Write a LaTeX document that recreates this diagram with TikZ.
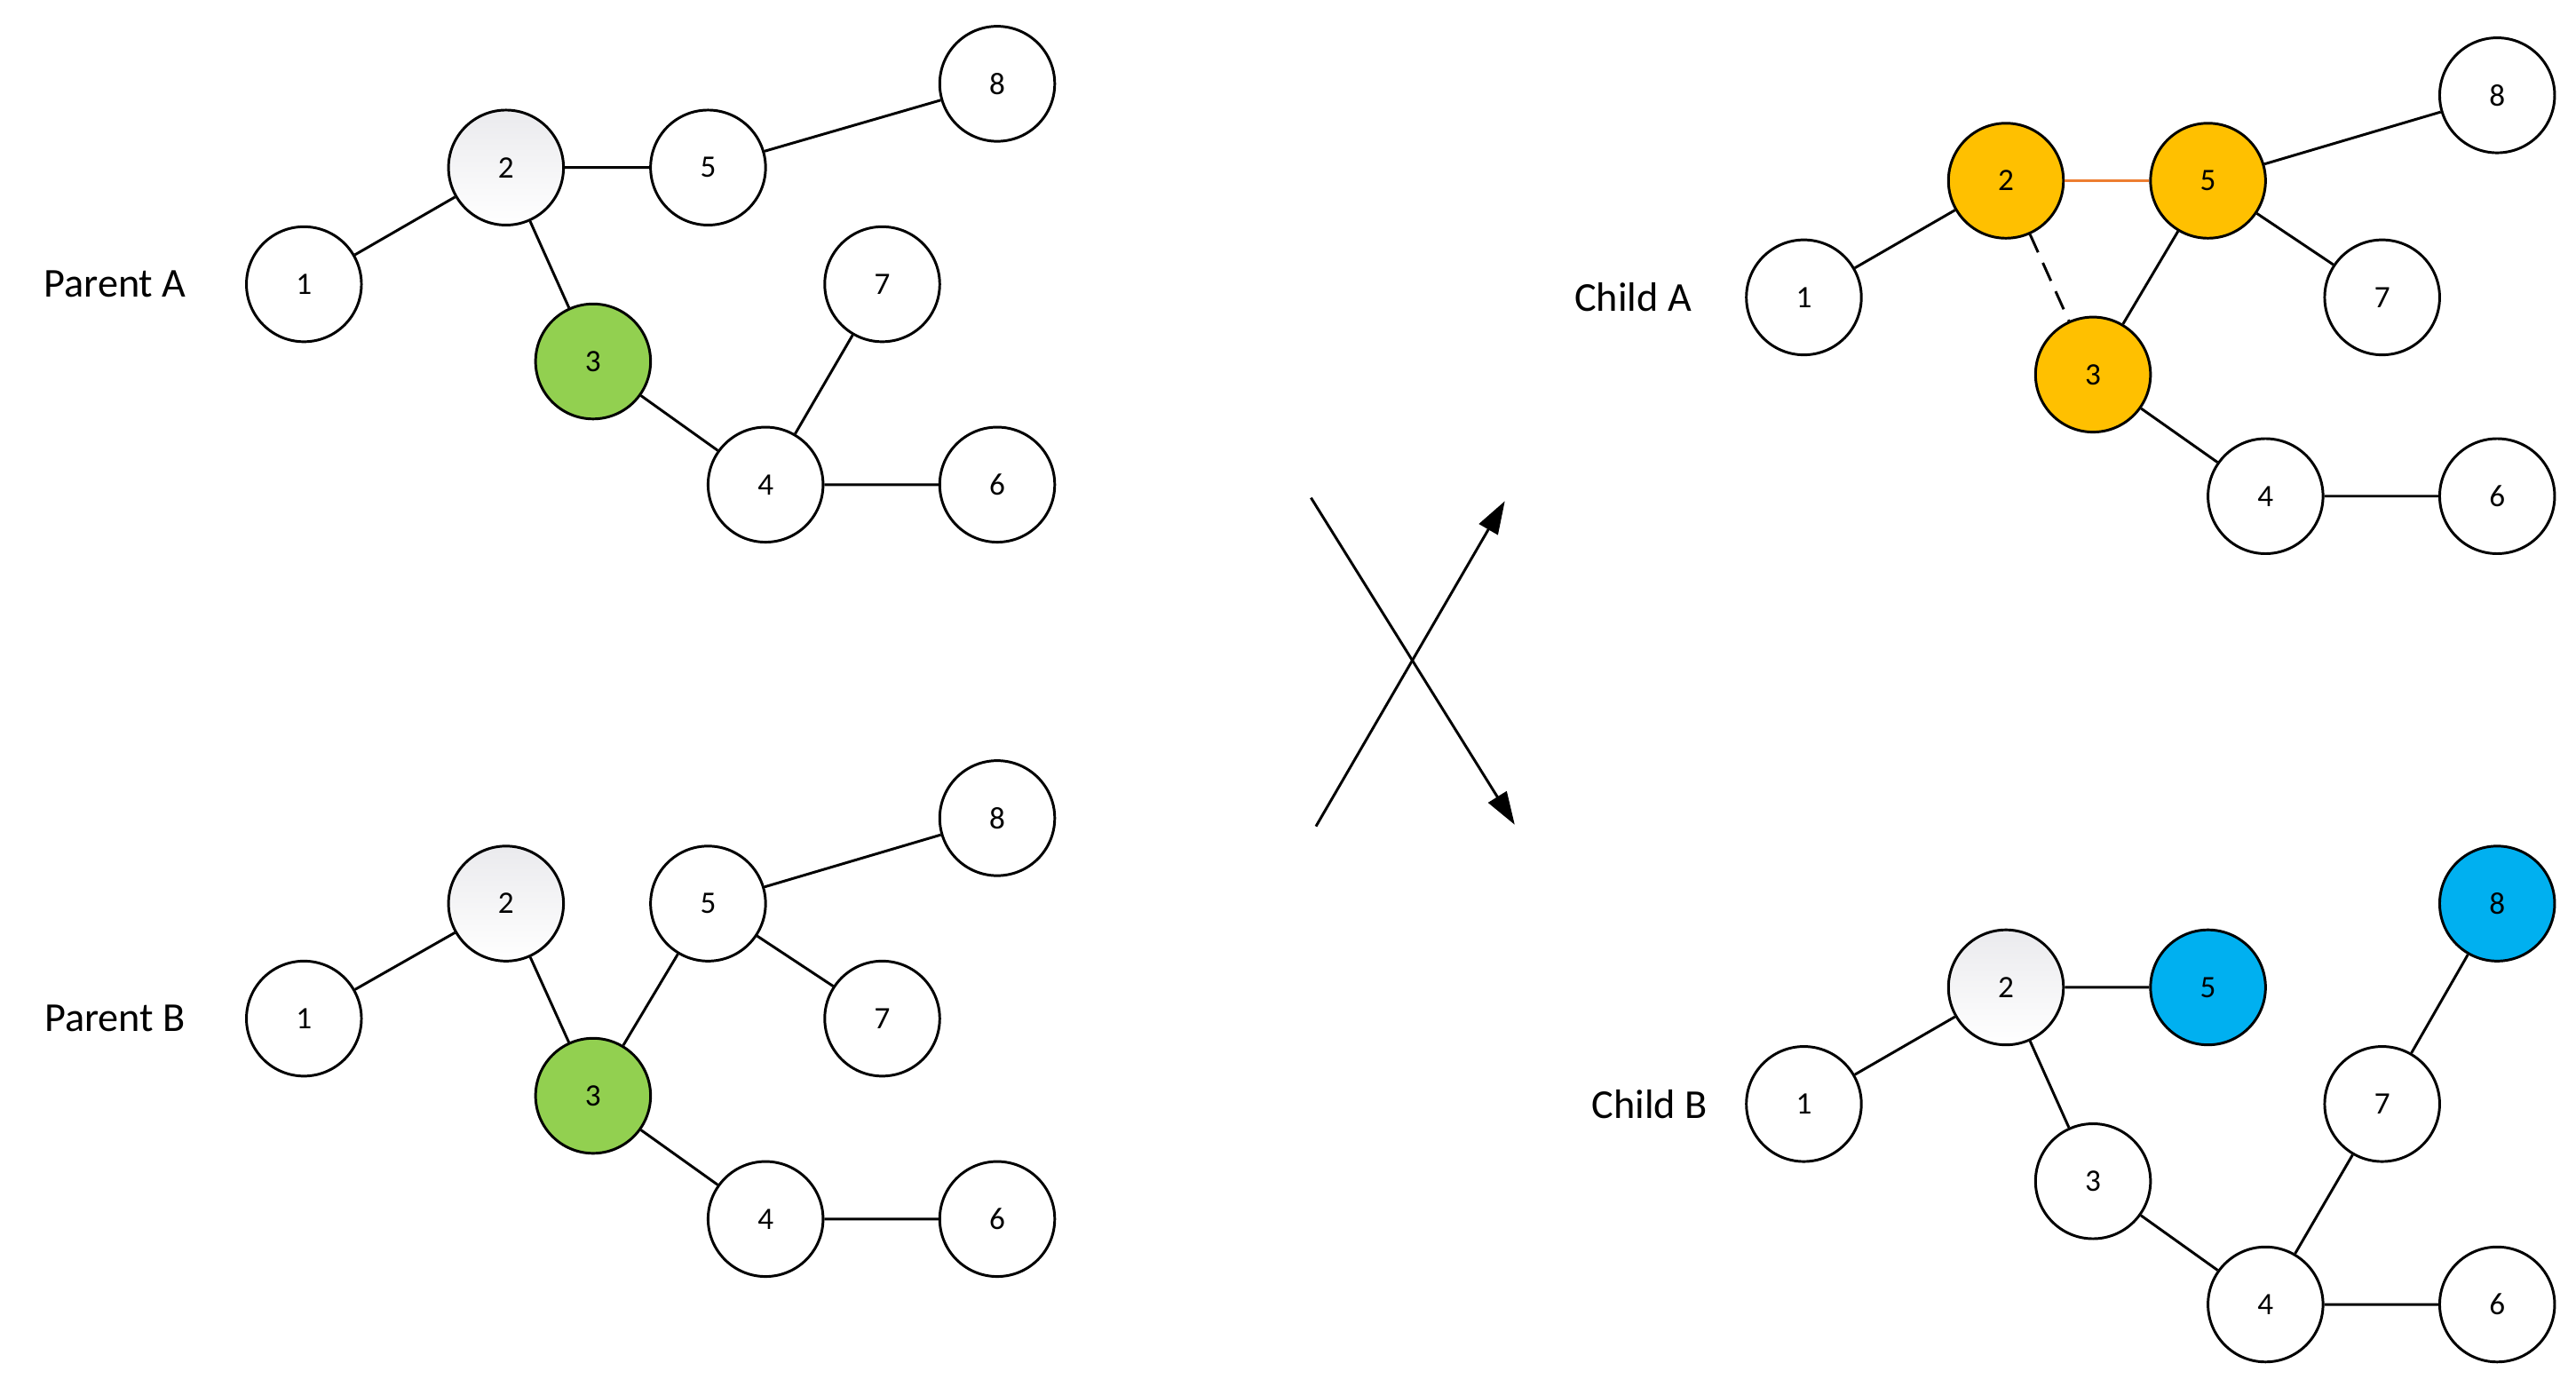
\documentclass[tikz,border=0pt]{standalone}
\usepackage{fontspec}
\setmainfont{Carlito}
\usetikzlibrary{arrows.meta}
\begin{document}
\begin{tikzpicture}[x=1pt,y=-1pt,
  nd/.style={circle,draw=black,line width=1.6pt,minimum size=70pt,inner sep=0pt,fill=white,font=\fontsize{19}{19}\selectfont},
  gn/.style={nd,fill=green!55!lime!80!black!85},
  og/.style={nd,fill={rgb,255:red,255;green,192;blue,0}},
  bl/.style={nd,fill={rgb,255:red,0;green,176;blue,240}},
  sh/.style={nd,top color=blue!8!gray!15,bottom color=white},
  lab/.style={font=\fontsize{25}{25}\selectfont},
  ed/.style={line width=1.6pt}]
\definecolor{grn}{RGB}{146,208,80}
\tikzset{gn/.style={nd,fill=grn}}
\useasboundingbox (0,0) rectangle (1568,844);
% Parent A
\node[lab] (pa) at (70,173) {Parent A};
\node[nd] (a1) at (185,173) {1};
\node[sh] (a2) at (308,102) {2};
\node[nd] (a5) at (431,102) {5};
\node[nd] (a8) at (607,51) {8};
\node[nd] (a7) at (537,173) {7};
\node[gn] (a3) at (361,220) {3};
\node[nd] (a4) at (466,295) {4};
\node[nd] (a6) at (607,295) {6};
\draw[ed] (a1)--(a2) (a2)--(a5) (a5)--(a8) (a2)--(a3) (a3)--(a4) (a4)--(a7) (a4)--(a6);
% Parent B
\node[lab] (pb) at (70,620) {Parent B};
\node[nd] (b1) at (185,620) {1};
\node[sh] (b2) at (308,550) {2};
\node[nd] (b5) at (431,550) {5};
\node[nd] (b8) at (607,498) {8};
\node[nd] (b7) at (537,620) {7};
\node[gn] (b3) at (361,667) {3};
\node[nd] (b4) at (466,742) {4};
\node[nd] (b6) at (607,742) {6};
\draw[ed] (b1)--(b2) (b2)--(b3) (b3)--(b5) (b5)--(b8) (b5)--(b7) (b3)--(b4) (b4)--(b6);
% Child A
\node[lab] (ca) at (994,181) {Child A};
\node[nd] (c1) at (1098,181) {1};
\node[og] (c2) at (1221,110) {2};
\node[og] (c5) at (1344,110) {5};
\node[nd] (c8) at (1520,58) {8};
\node[nd] (c7) at (1450,181) {7};
\node[og] (c3) at (1274,228) {3};
\node[nd] (c4) at (1379,302) {4};
\node[nd] (c6) at (1520,302) {6};
\draw[ed] (c1)--(c2) (c5)--(c3) (c5)--(c8) (c5)--(c7) (c3)--(c4) (c4)--(c6);
\draw[line width=1.6pt,draw={rgb,255:red,237;green,125;blue,49}] (c2)--(c5);
\draw[ed,dash pattern=on 12pt off 7pt] (c2)--(c3);
% Child B
\node[lab] (cb) at (1004,672) {Child B};
\node[nd] (d1) at (1098,672) {1};
\node[sh] (d2) at (1221,601) {2};
\node[bl] (d5) at (1344,601) {5};
\node[bl] (d8) at (1520,550) {8};
\node[nd] (d7) at (1450,672) {7};
\node[nd] (d3) at (1274,719) {3};
\node[nd] (d4) at (1379,794) {4};
\node[nd] (d6) at (1520,794) {6};
\draw[ed] (d1)--(d2) (d2)--(d5) (d2)--(d3) (d3)--(d4) (d4)--(d7) (d7)--(d8) (d4)--(d6);
% crossing arrows
\coordinate (x1) at (798,303);
\coordinate (x2) at (922,502);
\coordinate (y1) at (801,503);
\coordinate (y2) at (916,305);
\draw[ed,-{Triangle[length=20pt,width=13pt]}] (x1)--(x2);
\draw[ed,-{Triangle[length=20pt,width=13pt]}] (y1)--(y2);
\end{tikzpicture}
\end{document}
